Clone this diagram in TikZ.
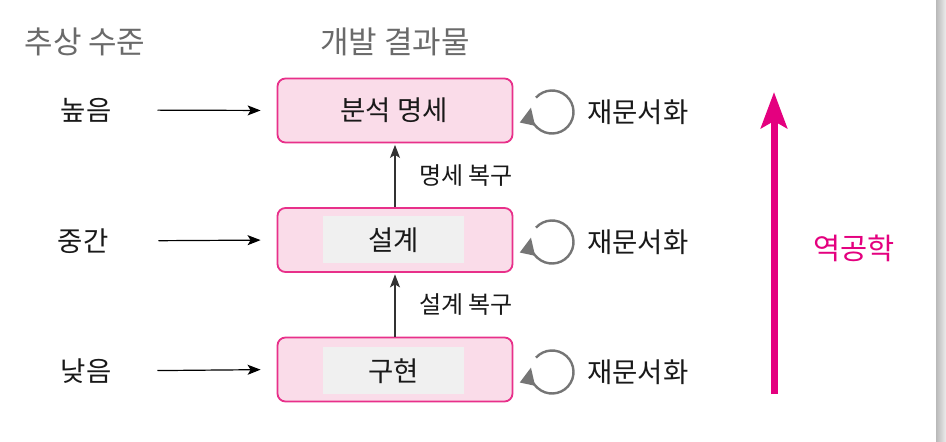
\documentclass[tikz,border=0pt]{standalone}
\usepackage{fontspec}
\newfontfamily\kr{Noto Sans CJK KR}
\usetikzlibrary{arrows.meta,calc}
\definecolor{mag}{HTML}{E4007F}
\definecolor{boxfill}{HTML}{FADCE9}
\definecolor{boxline}{HTML}{E8308A}
\definecolor{inner}{HTML}{F0F0F0}
\definecolor{hdr}{HTML}{6A6A6A}
\definecolor{loopc}{HTML}{757575}
\tikzset{
  txt/.style={font=\kr\fontsize{27.5}{32}\selectfont, inner sep=0pt, text=black!90},
  small/.style={font=\kr\fontsize{24}{28}\selectfont, inner sep=0pt, text=black!90},
  hdrtxt/.style={font=\kr\fontsize{31}{36}\selectfont, inner sep=0pt, text=hdr},
  bigbox/.style={draw=boxline, fill=boxfill, line width=1.8pt, rounded corners=8pt,
    minimum width=235pt, minimum height=64pt, inner sep=0pt},
  innerbox/.style={fill=inner, minimum width=141pt, minimum height=47pt, inner sep=0pt},
  harrow/.style={-{Stealth[length=13pt,width=10pt,inset=3pt]}, line width=1.2pt, black},
  varrow/.style={-{Stealth[length=13pt,width=10pt,inset=3pt]}, line width=1.2pt, black!80},
  loopline/.style={loopc, line width=2.4pt, -{Triangle[length=17pt,width=15pt]}},
}
\begin{document}
\begin{tikzpicture}[x=1pt,y=-1pt]
\useasboundingbox (0,0) rectangle (946,442);
\fill[white] (0,0) rectangle (946,442);
\shade[left color=gray!55, right color=gray!15] (936,0) rectangle (946,442);

% headers
\node[hdrtxt] (h1) at (85,42) {추상 수준};
\node[hdrtxt] (h2) at (395,42) {개발 결과물};

% level labels
\node[txt] (l1) at (86,110) {높음};
\node[txt] (l2) at (83,241) {중간};
\node[txt] (l3) at (86,371) {낮음};

% boxes
\node[bigbox] (b1) at (395,110.5) {};
\node[txt] (t1) at (394,110.5) {분석 명세};
\node[bigbox] (b2) at (395,240) {};
\node[innerbox] (i2) at (393.5,239.5) {};
\node[txt] (t2) at (393.5,240) {설계};
\node[bigbox] (b3) at (395,369.5) {};
\node[innerbox] (i3) at (393.5,370.5) {};
\node[txt] (t3) at (393.5,371) {구현};

% horizontal arrows
\draw[harrow, shorten <=46pt, shorten >=16pt] (l1.east) -- (b1.west);
\draw[harrow, shorten <=50pt, shorten >=16pt] (l2.east) -- (b2.west);
\draw[harrow, shorten <=46pt, shorten >=16pt] (l3.east) -- (b3.west);

% vertical arrows
\draw[varrow, shorten >=1.5pt] (b2.north) -- (b1.south);
\draw[varrow, shorten >=1.5pt] (b3.north) -- (b2.south);
\node[small, anchor=west] (r1) at (419,176) {명세 복구};
\node[small, anchor=west] (r2) at (419,305) {설계 복구};

% redocumentation loops
\foreach \n/\yy in {1/112, 2/242, 3/372}{
  \coordinate (c\n) at (552,\yy);
  \draw[loopline] (c\n) ++(222:21.5) arc (222:552:21.5);
  \node[txt, anchor=west] (d\n) at (587,\yy) {재문서화};
}

% reverse engineering arrow
\coordinate (rb) at (774,394);
\coordinate (rt) at (774,92);
\draw[mag, line width=7pt, -{Stealth[length=36pt,width=26pt,inset=7pt]}] (rb) -- (rt);
\node[font=\kr\fontsize{29.5}{34}\selectfont, inner sep=0pt, text=mag] (re) at (854,248) {역공학};
\end{tikzpicture}
\end{document}
